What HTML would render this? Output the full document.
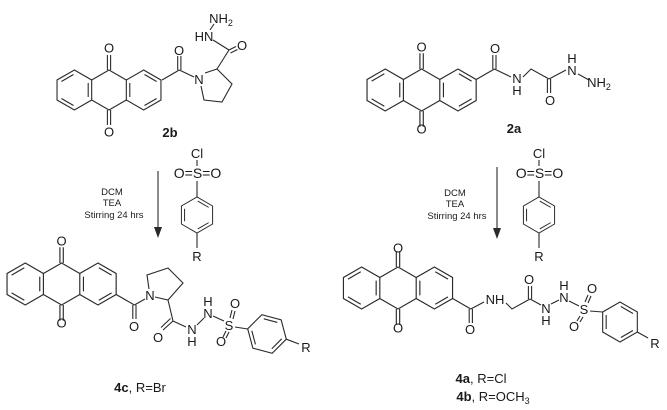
<!DOCTYPE html>
<html><head><meta charset="utf-8"><style>
html,body{margin:0;padding:0;background:#fff;}
svg{display:block;}
text{font-family:"Liberation Sans",Arial,sans-serif;fill:#1a1a1a;}
</style></head><body>
<svg width="667" height="410" viewBox="0 0 667 410" xmlns="http://www.w3.org/2000/svg">
<defs>
<g id="aq" fill="none" stroke="#2a2a2a" stroke-width="1.1">
<polygon points="-34.64,-20 -17.32,-10 -17.32,10 -34.64,20 -51.96,10 -51.96,-10"/>
<polygon points="34.64,-20 51.96,-10 51.96,10 34.64,20 17.32,10 17.32,-10"/>
<polyline points="-17.32,-10 0,-20 17.32,-10"/>
<polyline points="-17.32,10 0,20 17.32,10"/>
<line x1="-20.8" y1="-7" x2="-20.8" y2="7"/>
<line x1="-35.49" y1="-15.47" x2="-47.61" y2="-8.47"/>
<line x1="-47.61" y1="8.47" x2="-35.49" y2="15.47"/>
<line x1="20.8" y1="-7" x2="20.8" y2="7"/>
<line x1="35.49" y1="-15.47" x2="47.61" y2="-8.47"/>
<line x1="47.61" y1="8.47" x2="35.49" y2="15.47"/>
<line x1="-1.6" y1="-20" x2="-1.6" y2="-35"/>
<line x1="1.6" y1="-20" x2="1.6" y2="-35"/>
<line x1="-1.6" y1="20" x2="-1.6" y2="35"/>
<line x1="1.6" y1="20" x2="1.6" y2="35"/>
</g>
<g id="bz" fill="none" stroke="#2a2a2a" stroke-width="1.1">
<polygon points="20,0 10,17.32 -10,17.32 -20,0 -10,-17.32 10,-17.32"/>
<line x1="15.47" y1="0.85" x2="8.47" y2="12.97"/>
<line x1="15.47" y1="0.85" x2="8.47" y2="12.97" transform="rotate(120)"/>
<line x1="15.47" y1="0.85" x2="8.47" y2="12.97" transform="rotate(240)"/>
</g>
</defs>

<g fill="none" stroke="#2a2a2a" stroke-width="1.1">
<!-- 2b -->
<use href="#aq" transform="translate(109,90)"/>
<line x1="162" y1="80" x2="179.3" y2="70"/>
<line x1="177.7" y1="70" x2="177.7" y2="56"/><line x1="180.9" y1="70" x2="180.9" y2="56"/>
<line x1="179.3" y1="70" x2="194" y2="77"/>
<polyline points="205,73 217,69 232,84 222,102 204,100 201,86"/>
<line x1="217" y1="69" x2="229" y2="50"/>
<line x1="229" y1="50" x2="236" y2="46.5"/><line x1="230.5" y1="53" x2="237.5" y2="49.5"/>
<line x1="229" y1="50" x2="213" y2="40"/>
<line x1="210" y1="30" x2="214" y2="24"/>

<!-- 2a -->
<use href="#aq" transform="translate(421.6,90) scale(1.05)"/>
<line x1="476.2" y1="79.5" x2="494.4" y2="69"/>
<line x1="492.8" y1="69" x2="492.8" y2="55"/><line x1="496" y1="69" x2="496" y2="55"/>
<line x1="494.4" y1="69" x2="511" y2="77"/>
<polyline points="523,77 531,69 549,79"/>
<line x1="547.4" y1="79" x2="547.4" y2="93"/><line x1="550.6" y1="79" x2="550.6" y2="93"/>
<line x1="549" y1="79" x2="566" y2="70"/>
<line x1="578" y1="74" x2="589" y2="80"/>

<!-- reagents -->
<line x1="197" y1="160" x2="197" y2="166"/>
<line x1="197" y1="181" x2="197" y2="197"/>
<use href="#bz" transform="translate(197,215) scale(0.9) rotate(30)"/>
<line x1="197" y1="233" x2="197" y2="248"/>
<line x1="539" y1="160" x2="539" y2="166"/>
<line x1="539" y1="181" x2="539" y2="197"/>
<use href="#bz" transform="translate(539,215) scale(0.9) rotate(30)"/>
<line x1="539" y1="233" x2="539" y2="248"/>

<!-- arrows -->
<line x1="158" y1="171" x2="158" y2="228"/>
<line x1="497" y1="167" x2="497" y2="229"/>

<!-- 4c -->
<use href="#aq" transform="translate(61.6,284) scale(1.05)"/>
<line x1="116.2" y1="294.5" x2="134.4" y2="305"/>
<line x1="132.8" y1="305" x2="132.8" y2="319"/><line x1="136" y1="305" x2="136" y2="319"/>
<line x1="134.4" y1="305" x2="145" y2="299"/>
<polyline points="149,289 147,275 168,268 183,283 168,300 155,297"/>
<line x1="168" y1="300" x2="173" y2="321"/>
<line x1="173" y1="321" x2="163" y2="330"/><line x1="170.5" y1="318.5" x2="161" y2="327.5"/>
<line x1="173" y1="321" x2="186" y2="327"/>
<line x1="197" y1="325" x2="204" y2="318"/>
<line x1="213" y1="316" x2="224" y2="321"/>
<line x1="230" y1="318" x2="232" y2="310"/><line x1="233" y1="319" x2="235" y2="311"/>
<line x1="226" y1="331" x2="223" y2="337"/><line x1="229" y1="332" x2="226" y2="338"/>
<line x1="235" y1="327" x2="247.7" y2="329"/>
<use href="#bz" transform="translate(267,334) rotate(15)"/>
<line x1="286.3" y1="339.2" x2="299" y2="344"/>

<!-- 4a -->
<use href="#aq" transform="translate(398,288) scale(1.05)"/>
<line x1="452.6" y1="298.5" x2="470.8" y2="309"/>
<line x1="469.2" y1="309" x2="469.2" y2="323"/><line x1="472.4" y1="309" x2="472.4" y2="323"/>
<line x1="470.8" y1="309" x2="484" y2="302"/>
<polyline points="506,303 512,309 530,299"/>
<line x1="528.4" y1="299" x2="528.4" y2="286"/><line x1="531.6" y1="299" x2="531.6" y2="286"/>
<line x1="530" y1="299" x2="541" y2="305"/>
<line x1="551" y1="304" x2="559" y2="300"/>
<line x1="569" y1="301" x2="579" y2="306"/>
<line x1="585" y1="302" x2="588" y2="295"/><line x1="588" y1="303" x2="591" y2="296"/>
<line x1="580" y1="316" x2="577" y2="321"/><line x1="583" y1="317" x2="580" y2="322"/>
<line x1="590" y1="311" x2="602.7" y2="312"/>
<use href="#bz" transform="translate(620,322) rotate(30)"/>
<line x1="637.3" y1="332" x2="648" y2="338"/>
</g>
<polygon points="154,227 162,227 158,238" fill="#2a2a2a"/>
<polygon points="493,228 501,228 497,239" fill="#2a2a2a"/>

<g font-size="13" text-anchor="middle">
<!-- 2b -->
<text x="109" y="52.5">O</text><text x="109" y="136.5">O</text>
<text x="179" y="55">O</text>
<text x="199" y="84">N</text>
<text x="242" y="50">O</text>
<text x="204" y="41">HN</text>
<text x="221" y="23">NH<tspan font-size="9" dy="3">2</tspan></text>
<text x="170" y="137" font-weight="bold">2b</text>
<!-- 2a -->
<text x="421.6" y="51.5">O</text><text x="421.6" y="133.5">O</text>
<text x="495" y="53">O</text>
<text x="517" y="83">N</text><text x="517" y="95">H</text>
<text x="550" y="105">O</text>
<text x="572" y="75">N</text><text x="572" y="63">H</text>
<text x="599" y="87">NH<tspan font-size="9" dy="3">2</tspan></text>
<text x="514" y="133" font-weight="bold">2a</text>
<!-- reagents -->
<text x="197" y="158">Cl</text>
<text x="197.5" y="178" font-size="14">O=S=O</text>
<text x="197" y="261">R</text>
<text x="539" y="158">Cl</text>
<text x="539.5" y="178" font-size="14">O=S=O</text>
<text x="539" y="261">R</text>
<!-- 4c -->
<text x="61.6" y="245.5">O</text><text x="61.6" y="327.5">O</text>
<text x="134" y="331">O</text>
<text x="150" y="300">N</text>
<text x="158" y="342">O</text>
<text x="192" y="334">N</text><text x="192" y="346">H</text>
<text x="208" y="318">N</text><text x="208" y="306">H</text>
<text x="229" y="330">S</text>
<text x="235" y="308">O</text>
<text x="221" y="346">O</text>
<text x="306" y="352">R</text>
<text x="140" y="392"><tspan font-weight="bold">4c</tspan>, R=Br</text>
<!-- 4a -->
<text x="398" y="252.5">O</text><text x="398" y="332.5">O</text>
<text x="470" y="334">O</text>
<text x="495" y="304">NH</text>
<text x="529" y="284">O</text>
<text x="546" y="313">N</text><text x="546" y="325">H</text>
<text x="564" y="302">N</text><text x="564" y="290">H</text>
<text x="584" y="314">S</text>
<text x="592" y="293">O</text>
<text x="574" y="331">O</text>
<text x="655" y="348">R</text>
<text x="481" y="383"><tspan font-weight="bold">4a</tspan>, R=Cl</text>
<text x="493" y="401"><tspan font-weight="bold">4b</tspan>, R=OCH<tspan font-size="9" dy="3">3</tspan></text>
</g>
<g font-size="9.5" text-anchor="middle">
<text x="112" y="195">DCM</text>
<text x="112" y="206">TEA</text>
<text x="114" y="218">Stirring 24 hrs</text>
<text x="455" y="196">DCM</text>
<text x="455" y="207">TEA</text>
<text x="457" y="219">Stirring 24 hrs</text>
</g>
</svg>
</body></html>
